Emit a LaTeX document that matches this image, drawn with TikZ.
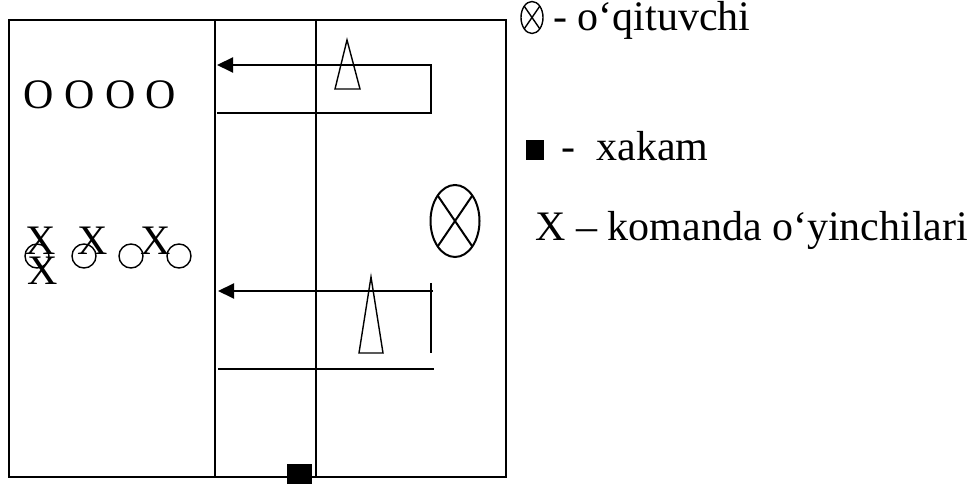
\documentclass[tikz,border=0pt]{standalone}
\usepackage{fontspec}
\setmainfont{Liberation Serif}
\usetikzlibrary{arrows.meta,shapes.geometric}

\tikzset{
	fieldline/.style={line width=1pt},
	runarrow/.style={line width=1pt,-{Triangle[length=8pt,width=7.5pt]}},
	cone/.style={line width=0.7pt,line join=miter},
	txt/.style={anchor=base west,inner sep=0pt,font=\fontsize{21}{25}\selectfont},
	player/.style={circle,draw,line width=0.7pt,minimum size=12pt,inner sep=0pt},
	crossring/.style={draw,ellipse,inner sep=0pt,outer sep=0pt}
}

\begin{document}
\begin{tikzpicture}[x=0.5pt,y=-0.5pt]
		\useasboundingbox (0,0) rectangle (973,485);
		\draw[fieldline] (9,20) rectangle (506,477);
		\coordinate (c1top) at (215,20);
		\coordinate (c1bot) at (215,477);
		\coordinate (c2top) at (316,20);
		\coordinate (c2bot) at (316,477);
		\draw[fieldline] (c1top) -- (c1bot);
		\draw[fieldline] (c2top) -- (c2bot);

		\coordinate (p1) at (217,113);
		\coordinate (p2) at (431,113);
		\coordinate (p3) at (431,65);
		\coordinate (p4) at (217,65);
		\draw[runarrow] (p1) -- (p2) -- (p3) -- (p4);
		\draw[cone] (347,40) -- (360,89) -- (335,89) -- cycle;

		\coordinate (q1) at (433,291);
		\coordinate (q2) at (218,291);
		\coordinate (q3) at (431,283);
		\coordinate (q4) at (431,353);
		\coordinate (q5) at (218,369);
		\coordinate (q6) at (434,369);
		\draw[runarrow] (q1) -- (q2);
		\draw[fieldline] (q3) -- (q4);
		\draw[fieldline] (q5) -- (q6);
		\draw[cone] (371,277) -- (383,353) -- (359,353) -- cycle;

		\node[crossring,line width=1pt,minimum width=24.5pt,minimum height=36pt] (teacher) at (455,221) {};
		\draw[line width=1pt] (teacher.north west) -- (teacher.south east) (teacher.north east) -- (teacher.south west);
		\node[fill,minimum width=12.5pt,minimum height=10pt,inner sep=0pt] (referee) at (299.5,474) {};

		\node[txt] (oteam) at (23,109) {O O O O};
		\node[player] (ring1) at (37,256) {};
		\node[player] (ring2) at (84,256) {};
		\node[player] (ring3) at (131,256) {};
		\node[player] (ring4) at (179,256) {};
		\node[txt] (x1) at (25,255) {X};
		\node[txt] (x2) at (77,255) {X};
		\node[txt] (x3) at (140,255) {X};
		\node[txt] (x4) at (27,285) {X};

		\node[crossring,line width=0.7pt,minimum width=11pt,minimum height=16pt] (keyteacher) at (532,17.5) {};
		\draw[line width=0.7pt] (keyteacher.north west) -- (keyteacher.south east) (keyteacher.north east) -- (keyteacher.south west);
		\node[txt] (keyteachertext) at (553,31) {- o‘qituvchi};
		\node[fill,minimum width=9pt,minimum height=10pt,inner sep=0pt] (keyreferee) at (535,150) {};
		\node[txt] (keyrefereetext) at (561,161) {-\ \ xakam};
		\node[txt] (keyplayers) at (535,241) {X – komanda o‘yinchilari};
	\end{tikzpicture}
\end{document}
